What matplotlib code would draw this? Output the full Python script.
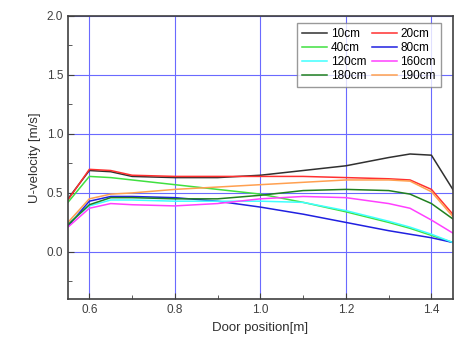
import matplotlib
matplotlib.use("Agg")
import matplotlib.pyplot as plt
from matplotlib.ticker import MultipleLocator

plt.rcParams['font.family'] = ['Liberation Sans', 'DejaVu Sans']

x = [0.55, 0.60, 0.65, 0.70, 0.80, 0.90, 1.00, 1.10, 1.20, 1.30, 1.35, 1.40, 1.45]

labels = ['10cm', '20cm', '40cm', '80cm', '120cm', '160cm', '180cm', '190cm']
colors = ['#303030', '#ff3030', '#40e040', '#2020e0', '#40ffff', '#ff40ff', '#208020', '#ffa050']

u10  = [0.45, 0.69, 0.68, 0.64, 0.63, 0.63, 0.65, 0.69, 0.73, 0.80, 0.83, 0.82, 0.53]
u20  = [0.44, 0.70, 0.69, 0.65, 0.64, 0.64, 0.64, 0.64, 0.63, 0.62, 0.61, 0.53, 0.32]
u40  = [0.42, 0.64, 0.63, 0.61, 0.57, 0.53, 0.49, 0.42, 0.34, 0.25, 0.20, 0.14, 0.08]
u80  = [0.22, 0.43, 0.47, 0.47, 0.46, 0.43, 0.38, 0.32, 0.25, 0.18, 0.15, 0.12, 0.08]
u120 = [0.24, 0.39, 0.44, 0.44, 0.43, 0.43, 0.43, 0.42, 0.35, 0.26, 0.21, 0.15, 0.08]
u160 = [0.21, 0.37, 0.41, 0.40, 0.39, 0.41, 0.45, 0.47, 0.46, 0.41, 0.37, 0.27, 0.16]
u180 = [0.23, 0.40, 0.46, 0.46, 0.45, 0.45, 0.48, 0.52, 0.53, 0.52, 0.49, 0.41, 0.28]
u190 = [0.25, 0.45, 0.49, 0.50, 0.53, 0.55, 0.57, 0.59, 0.61, 0.61, 0.60, 0.51, 0.30]

series = [u10, u20, u40, u80, u120, u160, u180, u190]

fig = plt.figure(figsize=(4.56, 3.47), dpi=100)
ax = fig.add_axes([0.149, 0.138, 0.844, 0.816])

handles = []
for lab, col, y in zip(labels, colors, series):
    h, = ax.plot(x, y, color=col, lw=1.1, label=lab)
    handles.append(h)

ax.set_xlim(0.55, 1.45)
ax.set_ylim(-0.4, 2.0)
ax.xaxis.set_major_locator(MultipleLocator(0.2))
ax.xaxis.set_minor_locator(MultipleLocator(0.1))
ax.yaxis.set_major_locator(MultipleLocator(0.5))
ax.yaxis.set_minor_locator(MultipleLocator(0.25))
ax.grid(True, which='major', color='#6a6aff', lw=0.8)
ax.set_axisbelow(True)
ax.tick_params(which='both', direction='in', colors='#404040', labelsize=8.5, labelcolor='#404040')
ax.tick_params(which='major', length=4)
ax.tick_params(which='minor', length=3)
for s in ax.spines.values():
    s.set_color('#404040')
    s.set_linewidth(1.2)

ax.set_xlabel('Door position[m]', fontsize=9.5, color='#303030')
ax.set_ylabel('U-velocity [m/s]', fontsize=9.5, color='#303030')

order = [0, 2, 4, 6, 1, 3, 5, 7]
leg = ax.legend([handles[i] for i in order], [labels[i] for i in order],
                ncol=2, loc='upper right', fontsize=8.5, frameon=True, fancybox=False,
                edgecolor='#808080', handlelength=2.1, columnspacing=0.5,
                labelspacing=0.15, borderpad=0.45, handletextpad=0.3,
                borderaxespad=0, bbox_to_anchor=(0.97, 0.975))
leg.get_frame().set_linewidth(1.0)

fig.savefig('out.png', dpi=100)
